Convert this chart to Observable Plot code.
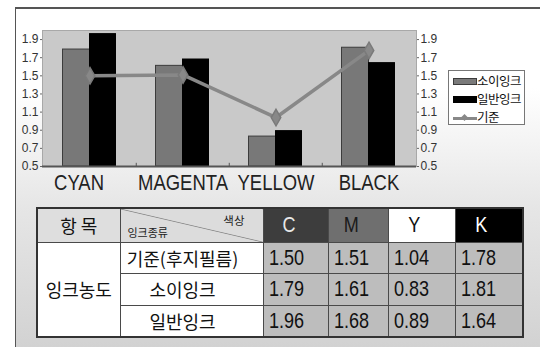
<!DOCTYPE html>
<html><head><meta charset="utf-8">
<script src="https://cdn.jsdelivr.net/npm/d3@7"></script>
<script src="https://cdn.jsdelivr.net/npm/@observablehq/plot@0.6"></script>
<style>
html,body{margin:0;padding:0;width:540px;height:347px;overflow:hidden;background:#fff;position:relative;}
#frame{position:absolute;left:15px;top:7px;width:540px;height:360px;border-left:1.5px solid #555;border-top:2px solid #555;
  background:linear-gradient(to bottom,#ffffff 0%,#ffffff 22%,#e6e6e6 55%,#cfcfcf 100%);}
#chart{position:absolute;left:0;top:0;}
#legend{position:absolute;left:448px;top:70px;width:77px;height:55px;background:#fff;border:1px solid #777;box-sizing:border-box;}
.lg-sw{position:absolute;left:4px;width:24px;box-sizing:border-box;}
.lg-tx{position:absolute;left:28px;font-family:"Noto Sans CJK KR",sans-serif;font-size:12.5px;line-height:14px;color:#111;letter-spacing:-0.5px;}
#tbl{position:absolute;left:36px;top:207px;border-collapse:collapse;table-layout:fixed;border:2px solid #333;}
#tbl td{border:1.5px solid #4a4a4a;padding:0;overflow:hidden;white-space:nowrap;color:#111;}
.kr{font-family:"Noto Sans CJK KR",sans-serif;font-size:18px;text-align:center;}
.num{font-family:"Liberation Sans",Arial,sans-serif;font-size:22px;text-align:left;padding-left:5px !important;background:#bdbdbd;}
.num span{display:inline-block;transform:scaleX(0.82);transform-origin:left center;}
.hd{font-family:"Liberation Sans",Arial,sans-serif;font-size:22px;text-align:center;padding-right:14px !important;}
.hd span{display:inline-block;transform:scaleX(0.82);transform-origin:center center;}
</style></head><body>
<div id="frame"></div>
<div id="chart"></div>
<div id="legend"></div>
<table id="tbl"></table>
<script>
const categories = ["CYAN", "MAGENTA", "YELLOW", "BLACK"];
const colorCodes = ["C", "M", "Y", "K"];
const baseValues = [1.50, 1.51, 1.04, 1.78];
const soyValues = [1.79, 1.61, 0.83, 1.81];
const regularValues = [1.96, 1.68, 0.89, 1.64];
const yTicks = [0.5, 0.7, 0.9, 1.1, 1.3, 1.5, 1.7, 1.9];
const seriesNames = ["소이잉크", "일반잉크", "기준"];
const rowNames = ["기준(후지필름)", "소이잉크", "일반잉크"];
const headerItem = "항 목";
const headerColor = "색상";
const headerInk = "잉크종류";
const groupName = "잉크농도";

const data = categories.map((c, i) => ({cat: c, base: baseValues[i], soy: soyValues[i], reg: regularValues[i]}));
const sans = "'Liberation Sans', Arial, sans-serif";

const chart = Plot.plot({
  width: 540, height: 200,
  marginLeft: 42, marginRight: 124, marginTop: 30, marginBottom: 34,
  style: {background: "transparent", fontFamily: sans, color: "#333", overflow: "visible"},
  x: {type: "band", domain: categories, padding: 0, axis: null},
  y: {domain: [0.5, 2.0], axis: null},
  marks: [
    Plot.frame({fill: "#c9c9c9", stroke: "#a8a8a8"}),
    Plot.barY(data, {x: "cat", y1: 0.5, y2: "soy", fill: "#787878", stroke: "#3c3c3c", strokeWidth: 1, insetLeft: 19.5, insetRight: 46.5}),
    Plot.barY(data, {x: "cat", y1: 0.5, y2: "reg", fill: "#000", stroke: "#000", insetLeft: 46.5, insetRight: 20.5}),
    Plot.line(data, {x: "cat", y: "base", stroke: "#888", strokeWidth: 3.5}),
    Plot.dot(data, {x: "cat", y: "base", symbol: "diamond", r: 5, fill: "#888", stroke: "#7a7a7a"}),
    Plot.ruleY([0.5], {stroke: "#555", strokeWidth: 2}),
    Plot.ruleX(categories.slice(1), {x: d => d, y1: 0.5, y2: 0.535, dx: -46.75, stroke: "#555"}),
    Plot.axisY({anchor: "left", ticks: yTicks, tickSize: 2, tickPadding: 2, tickFormat: d => d.toFixed(1), fontSize: 12, stroke: "#666"}),
    Plot.axisY({anchor: "right", ticks: yTicks, tickSize: 2, tickPadding: 2, tickFormat: d => d.toFixed(1), fontSize: 12, stroke: "#666"}),
    Plot.text(data, {filter: d => d.cat === "CYAN", x: "cat", y: 0.5, dy: 16, dx: -11, text: "cat", fontSize: 22, fill: "#222"}),
    Plot.text(data, {filter: d => d.cat !== "CYAN", x: "cat", y: 0.5, dy: 16, text: "cat", fontSize: 22, fill: "#222"})
  ]
});
// condense the category labels (narrow face)
chart.querySelectorAll("text").forEach(t => {
  if (categories.includes(t.textContent)) {
    const tr = t.getAttribute("transform") || "";
    t.setAttribute("transform", tr + " scale(0.84,1)");
  }
});
document.getElementById("chart").appendChild(chart);

// legend
const lg = document.getElementById("legend");
const lgStyles = [
  {top: 7, h: 7, bg: "#7a7a7a", bd: "1px solid #3c3c3c"},
  {top: 25, h: 7, bg: "#000", bd: "1px solid #000"},
  {top: 46, h: 2.5, bg: "#888", bd: "none"}
];
seriesNames.forEach((n, i) => {
  const s = document.createElement("div");
  s.className = "lg-sw";
  s.style.top = lgStyles[i].top + "px";
  s.style.height = lgStyles[i].h + "px";
  s.style.background = lgStyles[i].bg;
  s.style.border = lgStyles[i].bd;
  lg.appendChild(s);
  if (i === 2) {
    const dm = document.createElement("div");
    dm.style.cssText = "position:absolute;left:13px;top:43.5px;width:5px;height:5px;background:#888;transform:rotate(45deg);";
    lg.appendChild(dm);
  }
  const t = document.createElement("div");
  t.className = "lg-tx";
  t.textContent = n;
  t.style.top = (lgStyles[i].top + lgStyles[i].h / 2 - 8) + "px";
  lg.appendChild(t);
});

// table
const tbl = document.getElementById("tbl");
const colW = [83, 143, 65, 60, 67, 68];
const cg = document.createElement("colgroup");
colW.forEach(w => { const c = document.createElement("col"); c.style.width = w + "px"; cg.appendChild(c); });
tbl.appendChild(cg);
const hdrBg = ["#3d3d3d", "#6f6f6f", "#ffffff", "#000000"];
const hdrFg = ["#e8e8e8", "#1a1a1a", "#111111", "#ffffff"];
const rowH = [34, 31, 32, 32];

const tr0 = document.createElement("tr");
tr0.style.height = rowH[0] + "px";
const th0 = document.createElement("td");
th0.className = "kr"; th0.textContent = headerItem; th0.style.background = "#dedede";
tr0.appendChild(th0);
const thd = document.createElement("td");
thd.style.position = "relative";
thd.style.background = "linear-gradient(to top right, #dcdcdc calc(50% - 0.8px), #8a8a8a 50%, #dcdcdc calc(50% + 0.8px))";
thd.innerHTML = `<span style="position:absolute;right:18px;top:3px;font-family:'Noto Sans CJK KR',sans-serif;font-size:11.5px;color:#222;">${headerColor}</span><span style="position:absolute;left:7px;bottom:2px;font-family:'Noto Sans CJK KR',sans-serif;font-size:11px;color:#222;">${headerInk}</span>`;
tr0.appendChild(thd);
colorCodes.forEach((c, i) => {
  const td = document.createElement("td");
  td.className = "hd";
  const sp = document.createElement("span"); sp.textContent = c; td.appendChild(sp);
  td.style.background = hdrBg[i]; td.style.color = hdrFg[i];
  tr0.appendChild(td);
});
tbl.appendChild(tr0);

const rows = [baseValues, soyValues, regularValues];
rows.forEach((vals, r) => {
  const tr = document.createElement("tr");
  tr.style.height = rowH[r + 1] + "px";
  if (r === 0) {
    const g = document.createElement("td");
    g.className = "kr"; g.rowSpan = 3; g.textContent = groupName; g.style.background = "#fff";
    tr.appendChild(g);
  }
  const nm = document.createElement("td");
  nm.className = "kr"; nm.textContent = rowNames[r]; nm.style.background = "#fff"; nm.style.paddingRight = "18px";
  tr.appendChild(nm);
  vals.forEach(v => {
    const td = document.createElement("td");
    td.className = "num";
    const sp = document.createElement("span"); sp.textContent = v.toFixed(2); td.appendChild(sp);
    tr.appendChild(td);
  });
  tbl.appendChild(tr);
});
</script>
</body></html>
